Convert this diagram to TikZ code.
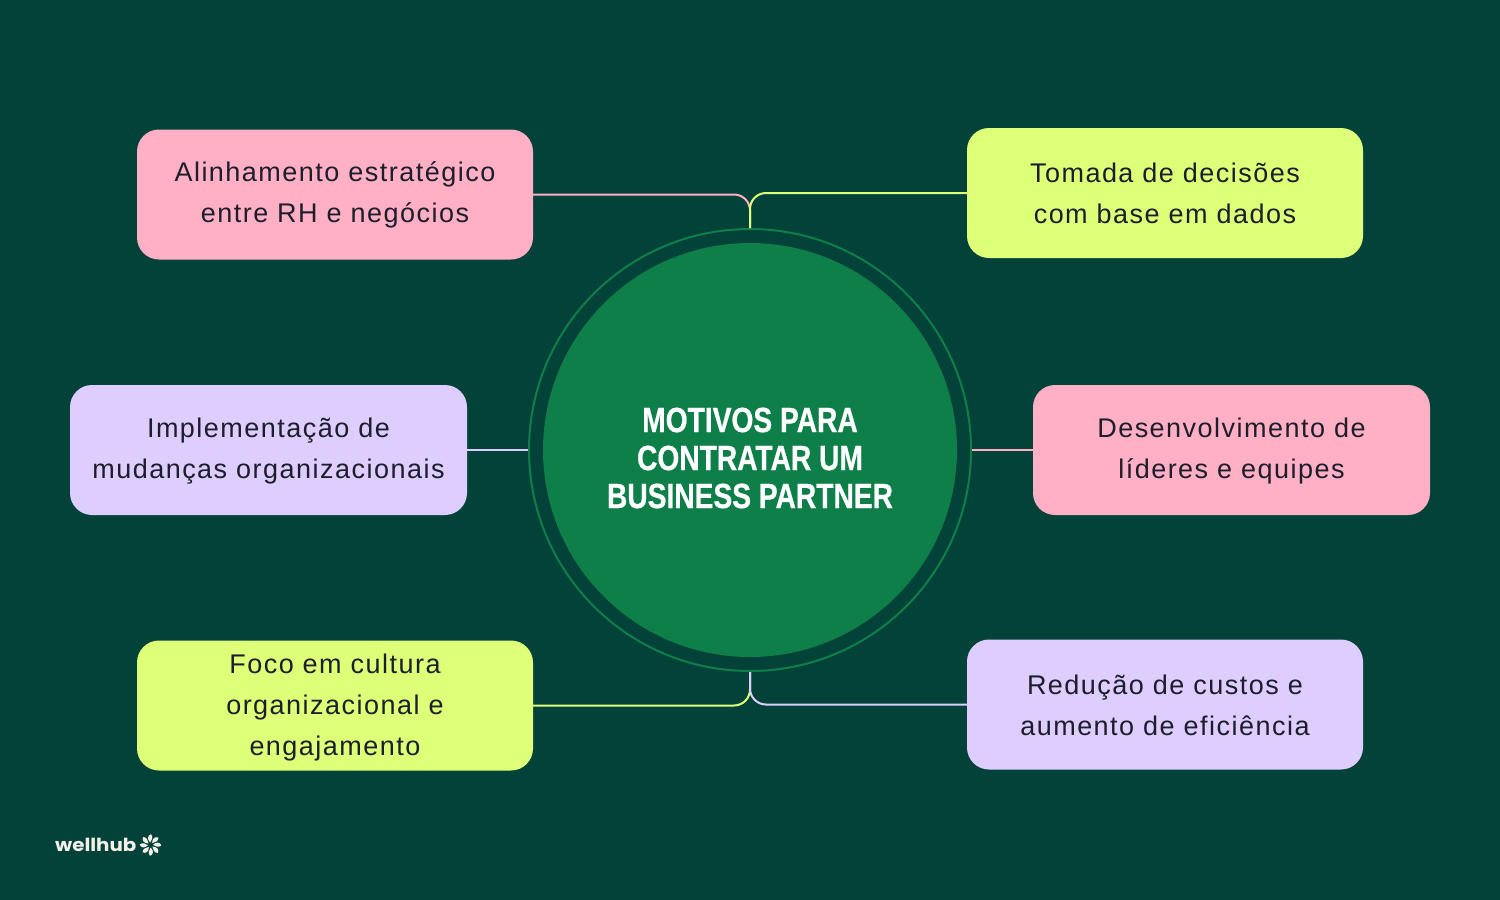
\documentclass[tikz,border=0pt]{standalone}
\usepackage{fontspec}
\setmainfont{Liberation Sans}
\newfontfamily\bodyfont[LetterSpace=5.5]{Liberation Sans}
\newfontfamily\titlefont[FakeStretch=0.805,FakeBold=0.6]{Liberation Sans Bold}
\newfontfamily\logofont[FakeStretch=1.1]{Poppins Bold}
\definecolor{bgc}{HTML}{034238}
\definecolor{greenc}{HTML}{0F7F4A}
\definecolor{pinkc}{HTML}{FFB0C4}
\definecolor{limec}{HTML}{DEFF78}
\definecolor{lavc}{HTML}{DECDFF}
\definecolor{inkc}{HTML}{1D1D2B}
\definecolor{logoc}{HTML}{F4F1EA}
\tikzset{
  card/.style={rounded corners=22pt, minimum width=396pt, minimum height=130pt, inner sep=0pt,
    align=center, text=inkc, font=\fontsize{27}{41}\selectfont\bodyfont,
    execute at begin node={\rule{0pt}{#1pt}}, execute at end node={\rule[-7pt]{0pt}{7pt}}},
  link/.style={line width=2pt, rounded corners=16pt}
}
\begin{document}
\begin{tikzpicture}[x=1pt,y=-1pt]
\fill[bgc] (0,0) rectangle (1500,900);
\useasboundingbox (0,0) rectangle (1500,900);
\node[circle, draw=greenc, line width=2pt, minimum size=442pt, inner sep=0pt] (ring) at (750,450) {};
\node[circle, fill=greenc, minimum size=414pt, inner sep=0pt] (hub) at (750,450) {};
\node[align=center, text=white, inner sep=0pt, font=\fontsize{35}{38}\selectfont\titlefont] (title) at (750,458) {MOTIVOS PARA\\CONTRATAR UM\\BUSINESS PARTNER};
\node[card=63, fill=pinkc] (a) at (335,194.5) {Alinhamento estratégico\\entre RH e negócios};
\node[card=67, fill=limec] (b) at (1165,193) {Tomada de decisões\\com base em dados};
\node[card=64, fill=lavc, minimum width=397pt] (c) at (268.5,450) {Implementação de\\mudanças organizacionais};
\node[card=64, fill=pinkc, minimum width=397pt] (d) at (1231.5,450) {Desenvolvimento de\\líderes e equipes};
\node[card=106, fill=limec] (e) at (335,705.5) {Foco em cultura\\organizacional e\\engajamento};
\node[card=69, fill=lavc] (f) at (1165,704.5) {Redução de custos e\\aumento de eficiência};
\draw[link, draw=pinkc] (a.east) -| (ring.north);
\draw[link, draw=limec] (b.west) -| (ring.north);
\draw[link, draw=lavc] (c.east) -- (ring.west);
\draw[link, draw=pinkc] (d.west) -- (ring.east);
\draw[link, draw=limec] (e.east) -| (ring.south);
\draw[link, draw=lavc] (f.west) -| (ring.south);
\node[anchor=west, inner sep=0pt, text=logoc, font=\fontsize{18}{18}\selectfont\logofont] (logo) at (55,845) {wellhub};
\foreach \r in {0,45,...,315}{
  \fill[logoc, shift={(150.5,845)}, rotate=\r] (-0.2,-2.5) .. controls (-3.4,-5.5) and (-3.2,-9.8) .. (0.6,-10.8) .. controls (2.6,-8) and (1.8,-5) .. cycle;
}
\end{tikzpicture}
\end{document}
